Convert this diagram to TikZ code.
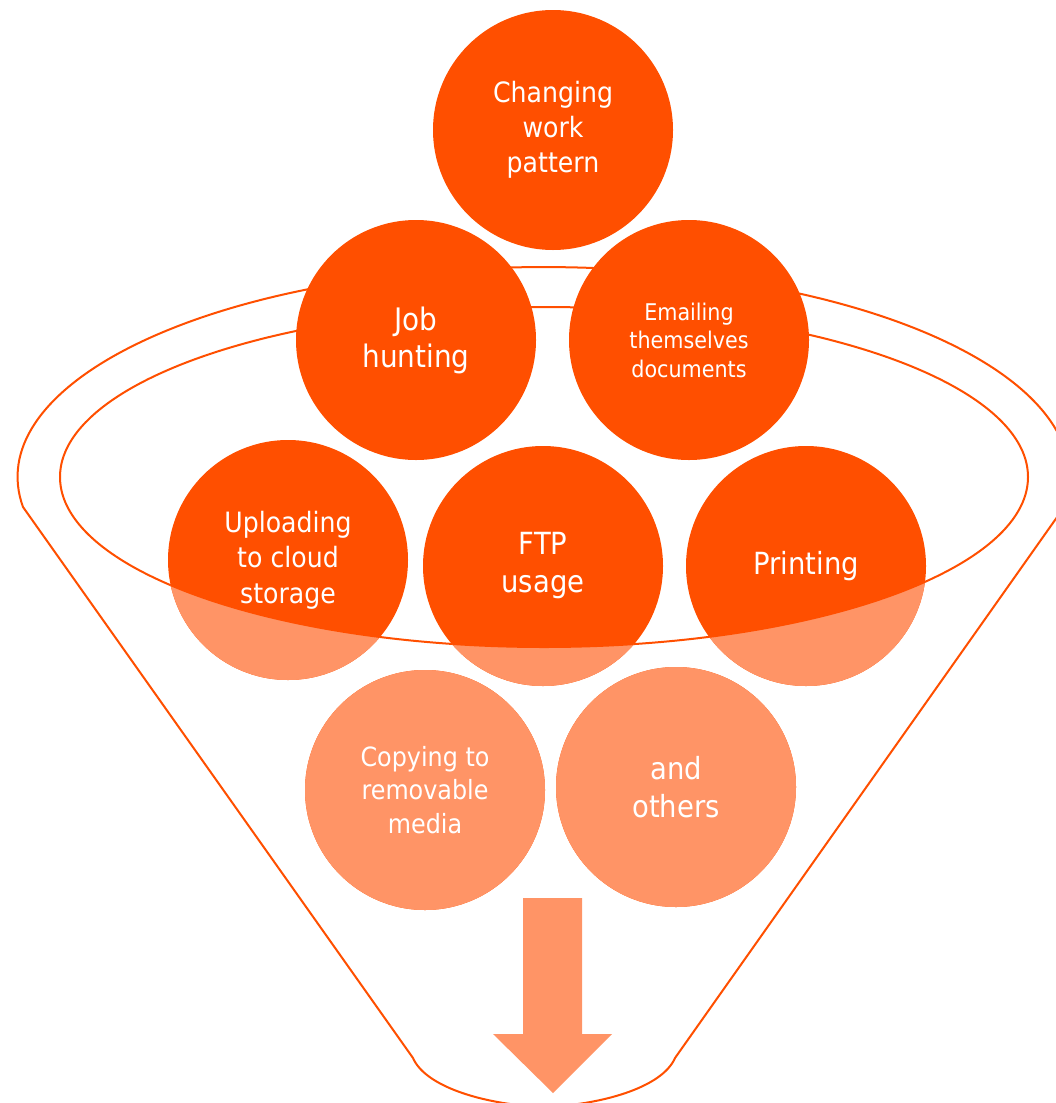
\documentclass[tikz,border=0pt]{standalone}
\usepackage{fontspec}
\setmainfont{DejaVu Sans}[FakeStretch=0.9]
\usepackage{tikz}
\definecolor{hot}{HTML}{FF4F00}
\definecolor{lite}{HTML}{FF9466}
\def\ballsize{240pt}
\begin{document}
\begin{tikzpicture}[x=1pt,y=-1pt,line join=round, txt/.style 2 args={font=\fontsize{#1}{#2}\selectfont}]
	\tikzstyle{rim}=[draw=hot,line width=2pt]
	\tikzstyle{ball}=[circle,fill=hot,minimum size=\ballsize,inner sep=0pt,text=white,align=center,
		path picture={
			\fill[lite] (lt) |- (rb) |- ([xshift=484pt]ec)
				arc [start angle=0,end angle=-180,x radius=484pt,y radius=170pt] -- cycle;
			\draw[rim] ([xshift=-484pt]ec) arc [start angle=180,end angle=360,x radius=484pt,y radius=170pt];
		}]
	
	\clip[use as bounding box] (0,0) rectangle (1056,1103);
	
	% Draw the funnel
	\coordinate (ec) at (544,477);
	\coordinate (lt) at (0,477);
	\coordinate (rb) at (1056,1103);
	\draw[rim] ([shift={(-521,30)}]ec) arc [start angle=188.2,end angle=-8.2,x radius=526pt,y radius=210pt]
		-- (675,1058) .. controls (662,1088) and (600,1105) .. (544,1107)
		.. controls (488,1105) and (426,1088) .. (413,1058) -- cycle;
	\draw[rim] (ec) ellipse [x radius=484pt,y radius=170pt];
	
	% Draw the balls
	\node[ball,txt={28}{35}] (chg) at (553,130) {Changing\\work\\pattern};
	\node[ball,txt={31}{37}] (job) at (416,340) {Job\\hunting};
	\node[ball,txt={23}{28.5}] (mail) at (689,340) {Emailing\\themselves\\documents};
	\node[ball,txt={28}{35.5}] (cloud) at (288,560) {Uploading\\to cloud\\storage};
	\node[ball,txt={30.5}{38}] (ftp) at (543,566) {FTP\\usage};
	\node[ball,txt={30.5}{38}] (prt) at (806,566) {Printing};
	\node[ball,txt={26.5}{33.5}] (copy) at (425,790) {Copying to\\removable\\media};
	\node[ball,txt={30.5}{38}] (oth) at (676,787) {and\\others};
	
	% Draw the arrow
	\fill[lite] (523,898) -- (582,898) -- (582,1034) -- (612,1034) -- (553,1093)
		-- (493,1034) -- (523,1034) -- cycle;
	
\end{tikzpicture}
\end{document}
